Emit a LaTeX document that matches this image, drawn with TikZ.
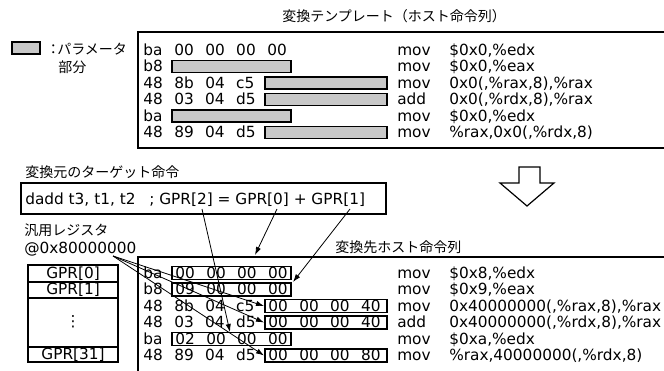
\documentclass[tikz,border=0pt]{standalone}
\usepackage{fontspec}
\setmainfont{DejaVu Sans}
\newfontfamily\jp{Noto Sans CJK JP}
\usetikzlibrary{arrows.meta}
\definecolor{pgray}{RGB}{200,200,200}
\newcommand\hb[1]{\makebox[23.25pt][l]{#1}}
\tikzset{
  lat/.style={font=\fontsize{11.5}{13}\selectfont, inner sep=0pt, anchor=base west},
  jpt/.style={font=\jp\fontsize{10.5}{12}\selectfont, inner sep=0pt, anchor=base west},
  gprt/.style={font=\fontsize{11.5}{13}\selectfont, inner sep=0pt},
  boxline/.style={draw=black, line width=0.9pt},
  tabline/.style={draw=black, line width=1.1pt},
  pbox/.style={draw=black, fill=pgray, line width=0.8pt},
  wbox/.style={draw=black, fill=white, line width=0.8pt},
  conn/.style={draw=black, line width=0.6pt, -{Latex[length=6pt,width=4pt]}},
}
\begin{document}
\begin{tikzpicture}[x=0.75pt,y=-0.75pt]
\useasboundingbox (0,0) rectangle (664,371);

% ---------- legend ----------
\draw[pbox] (12,42) rectangle (40,54);
\node[jpt] (lgcolon) at (46,54.5) {：};
\node[jpt] (lgtext) at (57,54.5) {パラメータ};
\node[jpt] (lgtext2) at (58,72.5) {部分};

% ---------- template (top) ----------
\node[jpt] (ttitle) at (282,21.5) {変換テンプレート（ホスト命令列）};
\draw[boxline] (700,32) -- (138,32) -- (138,148) -- (700,148);

\node[lat] (t1a) at (143,55) {\hb{ba}\hb{00}\hb{00}\hb{00}00};
\node[lat] (t2a) at (143,71.5) {b8};
\node[lat] (t3a) at (143,88) {\hb{48}\hb{8b}\hb{04}c5};
\node[lat] (t4a) at (143,104.5) {\hb{48}\hb{03}\hb{04}d5};
\node[lat] (t5a) at (143,121) {ba};
\node[lat] (t6a) at (143,137.5) {\hb{48}\hb{89}\hb{04}d5};

\draw[pbox] (172,60.5) rectangle (291,72.5);
\draw[pbox] (265,77) rectangle (387,89);
\draw[pbox] (265,93.5) rectangle (387,105.5);
\draw[pbox] (172,110) rectangle (291,122);
\draw[pbox] (265,126.5) rectangle (387,138.5);

\node[lat] (t1m) at (397,55) {mov};
\node[lat] (t2m) at (397,71.5) {mov};
\node[lat] (t3m) at (397,88) {mov};
\node[lat] (t4m) at (397,104.5) {add};
\node[lat] (t5m) at (397,121) {mov};
\node[lat] (t6m) at (397,137.5) {mov};
\node[lat] (t1o) at (449,55) {\$0x0,\%edx};
\node[lat] (t2o) at (449,71.5) {\$0x0,\%eax};
\node[lat] (t3o) at (449,88) {0x0(,\%rax,8),\%rax};
\node[lat] (t4o) at (449,104.5) {0x0(,\%rdx,8),\%rax};
\node[lat] (t5o) at (449,121) {\$0x0,\%edx};
\node[lat] (t6o) at (449,137.5) {\%rax,0x0(,\%rdx,8)};

% ---------- big down arrow ----------
\draw[boxline, fill=white, line join=miter] (519,167) -- (540,167) -- (540,183) -- (554,183) -- (527,206) -- (500,183) -- (519,183) -- cycle;

% ---------- source instruction ----------
\node[jpt] (stitle) at (25,177.5) {変換元のターゲット命令};
\draw[boxline] (21,183) rectangle (386,214);
\node[lat] (src1) at (25,204) {dadd t3, t1, t2};
\node[lat] (src2) at (149,204) {; GPR[2] = GPR[0] + GPR[1]};
\coordinate (sg2) at (202,209);
\coordinate (sg0) at (277,209);
\coordinate (sg1) at (350,209);

% ---------- registers ----------
\node[jpt] (rtitle) at (24,235.5) {汎用レジスタ};
\node[lat] (raddr) at (24,253) {@0x80000000};
\coordinate (addr) at (113,256);
\draw[tabline] (28,265) rectangle (118,362);
\draw[tabline] (28,282) -- (118,282);
\draw[tabline] (28,298) -- (118,298);
\draw[tabline] (28,347) -- (118,347);
\node[gprt] (gpr0) at (73,273.5) {GPR[0]};
\node[gprt] (gpr1) at (73,290) {GPR[1]};
\node[gprt] (gprd) at (73,322) {⋮};
\node[gprt] (gpr31) at (73,354.5) {GPR[31]};

% ---------- result (bottom) ----------
\node[jpt] (btitle) at (335,252.5) {変換先ホスト命令列};
\draw[boxline] (700,257) -- (138,257) -- (138,380);

\node[lat] (b1a) at (143,278) {ba};
\node[lat] (b2a) at (143,294.5) {b8};
\node[lat] (b3a) at (143,311) {\hb{48}\hb{8b}\hb{04}c5};
\node[lat] (b4a) at (143,327.5) {\hb{48}\hb{03}\hb{04}d5};
\node[lat] (b5a) at (143,344) {ba};
\node[lat] (b6a) at (143,360.5) {\hb{48}\hb{89}\hb{04}d5};

\draw[wbox] (172,266.5) rectangle (291,279.5);
\draw[wbox] (172,283) rectangle (291,296);
\draw[wbox] (265,299.5) rectangle (387,312.5);
\draw[wbox] (265,316) rectangle (387,329);
\draw[wbox] (172,332.5) rectangle (291,345.5);
\draw[wbox] (265,349) rectangle (387,362);
\node[lat] (b1p) at (175,278) {\hb{00}\hb{00}\hb{00}00};
\node[lat] (b2p) at (175,294.5) {\hb{09}\hb{00}\hb{00}00};
\node[lat] (b3p) at (268,311) {\hb{00}\hb{00}\hb{00}40};
\node[lat] (b4p) at (268,327.5) {\hb{00}\hb{00}\hb{00}40};
\node[lat] (b5p) at (175,344) {\hb{02}\hb{00}\hb{00}00};
\node[lat] (b6p) at (268,360.5) {\hb{00}\hb{00}\hb{00}80};

\node[lat] (b1m) at (397,278) {mov};
\node[lat] (b2m) at (397,294.5) {mov};
\node[lat] (b3m) at (397,311) {mov};
\node[lat] (b4m) at (397,327.5) {add};
\node[lat] (b5m) at (397,344) {mov};
\node[lat] (b6m) at (397,360.5) {mov};
\node[lat] (b1o) at (449,278) {\$0x8,\%edx};
\node[lat] (b2o) at (449,294.5) {\$0x9,\%eax};
\node[lat] (b3o) at (449,311) {0x40000000(,\%rax,8),\%rax};
\node[lat] (b4o) at (449,327.5) {0x40000000(,\%rdx,8),\%rax};
\node[lat] (b5o) at (449,344) {\$0xa,\%edx};
\node[lat] (b6o) at (449,360.5) {\%rax,40000000(,\%rdx,8)};

% ---------- arrow end points ----------
\coordinate (e2) at (230,332);
\coordinate (e0) at (255,255);
\coordinate (e1) at (293,282);
\coordinate (ea3) at (264,306);
\coordinate (ea4) at (264,322.5);
\coordinate (ea6) at (264,355.5);

\draw[conn] (sg2) -- (e2);
\draw[conn] (sg0) -- (e0);
\draw[conn] (sg1) -- (e1);
\draw[conn] (addr) -- (ea3);
\draw[conn] (addr) -- (ea4);
\draw[conn] (addr) -- (ea6);
\end{tikzpicture}
\end{document}
